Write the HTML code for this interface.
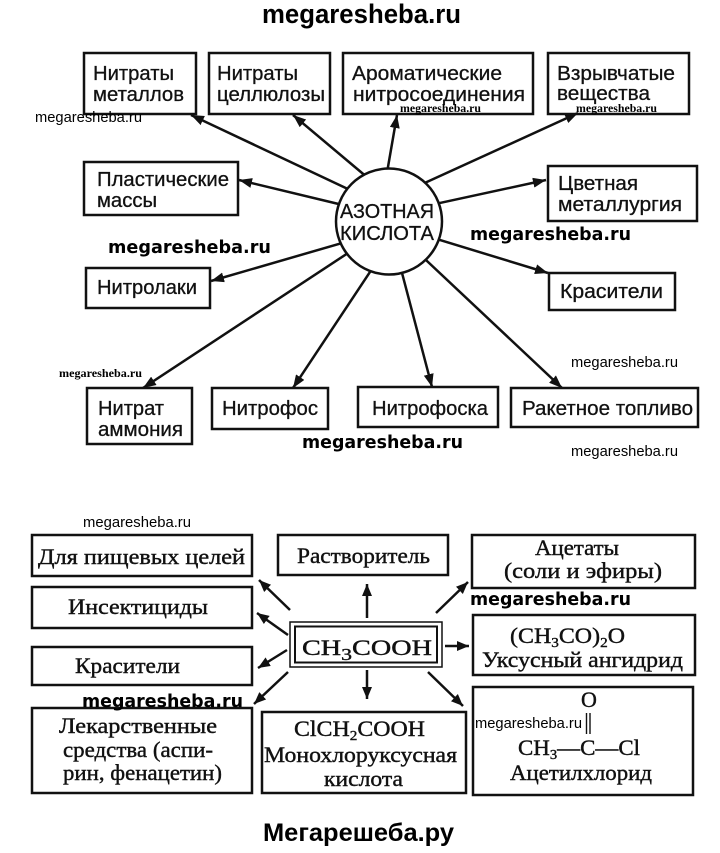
<!DOCTYPE html>
<html>
<head>
<meta charset="utf-8">
<style>
html,body{margin:0;padding:0;background:#fff;}
body{width:720px;height:853px;overflow:hidden;}
svg{display:block;}
.s{font-family:"Liberation Sans",Arial,sans-serif;font-size:20px;fill:#111;stroke:#111;stroke-width:0.3;}
.t{font-family:"Liberation Serif","Times New Roman",serif;font-size:22px;fill:#111;stroke:#111;stroke-width:0.4;}
.wb{font-family:"DejaVu Sans","Liberation Sans",sans-serif;font-weight:bold;font-size:17.5px;fill:#000;}
.wr{font-family:"Liberation Sans",Arial,sans-serif;font-size:15px;fill:#000;}
.ws{font-family:"Liberation Serif",serif;font-weight:bold;font-size:12px;fill:#000;}
.box{fill:none;stroke:#111;stroke-width:2.5;}
.ln{stroke:#111;stroke-width:2.5;fill:none;}
</style>
</head>
<body>
<svg width="720" height="853" viewBox="0 0 720 853" xmlns="http://www.w3.org/2000/svg">
<defs>
<marker id="a" markerUnits="userSpaceOnUse" markerWidth="13" markerHeight="10" refX="13" refY="5" orient="auto"><path d="M0,0 L13,5 L0,10 z" fill="#111"/></marker>
<marker id="b" markerUnits="userSpaceOnUse" markerWidth="12" markerHeight="10" refX="12" refY="5" orient="auto"><path d="M0,0 L12,5 L0,10 z" fill="#111"/></marker>
</defs>

<!-- Title -->
<text x="262" y="23" font-family="Liberation Sans, Arial, sans-serif" font-weight="bold" font-size="27" fill="#000" textLength="199" lengthAdjust="spacingAndGlyphs">megaresheba.ru</text>

<!-- TOP SECTION: arrows -->
<g class="ln">
<line x1="350" y1="190" x2="191" y2="115" marker-end="url(#a)"/>
<line x1="368" y1="178" x2="293" y2="115" marker-end="url(#a)"/>
<line x1="386.6" y1="175" x2="397" y2="115" marker-end="url(#a)"/>
<line x1="419.7" y1="185.3" x2="578" y2="113" marker-end="url(#a)"/>
<line x1="432" y1="204.7" x2="546" y2="180" marker-end="url(#a)"/>
<line x1="342.8" y1="205" x2="239" y2="180" marker-end="url(#a)"/>
<line x1="349.7" y1="240.8" x2="211" y2="281" marker-end="url(#a)"/>
<line x1="432.4" y1="237.7" x2="548" y2="273" marker-end="url(#a)"/>
<line x1="351.7" y1="250.6" x2="143" y2="388" marker-end="url(#a)"/>
<line x1="374.4" y1="265.3" x2="293" y2="388" marker-end="url(#a)"/>
<line x1="400" y1="265.3" x2="432" y2="387" marker-end="url(#a)"/>
<line x1="422.2" y1="256.5" x2="562" y2="388" marker-end="url(#a)"/>
</g>

<!-- circle -->
<circle cx="389" cy="221.5" r="53" fill="#fff" stroke="#111" stroke-width="2.5"/>
<text class="s" x="340" y="218" font-size="19" textLength="94" lengthAdjust="spacingAndGlyphs">АЗОТНАЯ</text>
<text class="s" x="340" y="240" font-size="19" textLength="94" lengthAdjust="spacingAndGlyphs">КИСЛОТА</text>

<!-- top boxes -->
<rect class="box" x="84" y="53" width="112" height="61"/>
<text class="s" x="93" y="80" textLength="81" lengthAdjust="spacingAndGlyphs">Нитраты</text>
<text class="s" x="93" y="101" textLength="91" lengthAdjust="spacingAndGlyphs">металлов</text>

<rect class="box" x="209" y="53" width="121" height="61"/>
<text class="s" x="217" y="80" textLength="81" lengthAdjust="spacingAndGlyphs">Нитраты</text>
<text class="s" x="217" y="101" textLength="108" lengthAdjust="spacingAndGlyphs">целлюлозы</text>

<rect class="box" x="343" y="53" width="190" height="61"/>
<text class="s" x="352" y="80" textLength="150" lengthAdjust="spacingAndGlyphs">Ароматические</text>
<text class="s" x="353" y="101" textLength="172" lengthAdjust="spacingAndGlyphs">нитросоединения</text>

<rect class="box" x="548" y="53" width="141" height="61"/>
<text class="s" x="557" y="80" textLength="118" lengthAdjust="spacingAndGlyphs">Взрывчатые</text>
<text class="s" x="557" y="100" textLength="93" lengthAdjust="spacingAndGlyphs">вещества</text>

<rect class="box" x="84" y="162" width="154" height="53"/>
<text class="s" x="97" y="186" textLength="132" lengthAdjust="spacingAndGlyphs">Пластические</text>
<text class="s" x="97" y="207" textLength="60" lengthAdjust="spacingAndGlyphs">массы</text>

<rect class="box" x="548" y="166" width="149" height="55"/>
<text class="s" x="558" y="190" textLength="80" lengthAdjust="spacingAndGlyphs">Цветная</text>
<text class="s" x="558" y="211" textLength="124" lengthAdjust="spacingAndGlyphs">металлургия</text>

<rect class="box" x="86" y="268" width="124" height="40"/>
<text class="s" x="97" y="294" textLength="100" lengthAdjust="spacingAndGlyphs">Нитролаки</text>

<rect class="box" x="549" y="273" width="126" height="37"/>
<text class="s" x="560" y="298" textLength="103" lengthAdjust="spacingAndGlyphs">Красители</text>

<rect class="box" x="87" y="388" width="105" height="56"/>
<text class="s" x="98" y="415" textLength="66" lengthAdjust="spacingAndGlyphs">Нитрат</text>
<text class="s" x="98" y="436" textLength="85" lengthAdjust="spacingAndGlyphs">аммония</text>

<rect class="box" x="212" y="388" width="116" height="41"/>
<text class="s" x="222" y="415" textLength="96" lengthAdjust="spacingAndGlyphs">Нитрофос</text>

<rect class="box" x="358" y="387" width="140" height="40"/>
<text class="s" x="372" y="415" textLength="116" lengthAdjust="spacingAndGlyphs">Нитрофоска</text>

<rect class="box" x="511" y="388" width="187" height="39"/>
<text class="s" x="522" y="415" textLength="171" lengthAdjust="spacingAndGlyphs">Ракетное топливо</text>

<!-- top watermarks -->
<text class="wr" x="35" y="122" textLength="107" lengthAdjust="spacingAndGlyphs">megaresheba.ru</text>
<text class="ws" x="400" y="112" textLength="81" lengthAdjust="spacingAndGlyphs">megaresheba.ru</text>
<text class="ws" x="576" y="112" textLength="81" lengthAdjust="spacingAndGlyphs">megaresheba.ru</text>
<text class="wb" x="470" y="240" textLength="161" lengthAdjust="spacingAndGlyphs">megaresheba.ru</text>
<text class="wb" x="108" y="253" textLength="163" lengthAdjust="spacingAndGlyphs">megaresheba.ru</text>
<text class="ws" x="59" y="377" font-family="Liberation Sans, sans-serif" textLength="83" lengthAdjust="spacingAndGlyphs">megaresheba.ru</text>
<text class="wr" x="571" y="367" textLength="107" lengthAdjust="spacingAndGlyphs">megaresheba.ru</text>
<text class="wb" x="302" y="448" textLength="161" lengthAdjust="spacingAndGlyphs">megaresheba.ru</text>
<text class="wr" x="571" y="456" textLength="107" lengthAdjust="spacingAndGlyphs">megaresheba.ru</text>

<!-- BOTTOM SECTION -->
<g class="ln" stroke-width="2.6">
<line x1="290" y1="610" x2="259" y2="580" marker-end="url(#b)"/>
<line x1="288" y1="635" x2="257" y2="613" marker-end="url(#b)"/>
<line x1="287" y1="650" x2="258" y2="668" marker-end="url(#b)"/>
<line x1="288" y1="672" x2="254" y2="704" marker-end="url(#b)"/>
<line x1="367" y1="618" x2="367" y2="584" marker-end="url(#b)"/>
<line x1="367" y1="670" x2="367" y2="699" marker-end="url(#b)"/>
<line x1="436" y1="613" x2="468" y2="582" marker-end="url(#b)"/>
<line x1="445" y1="646" x2="469" y2="646" marker-end="url(#b)"/>
<line x1="428" y1="672" x2="463" y2="706" marker-end="url(#b)"/>
</g>

<rect class="box" x="32" y="535" width="220" height="41" stroke-width="2.6"/>
<text class="t" x="38" y="564" textLength="207" lengthAdjust="spacingAndGlyphs">Для пищевых целей</text>

<rect class="box" x="32" y="587" width="220" height="41" stroke-width="2.6"/>
<text class="t" x="68" y="614" textLength="140" lengthAdjust="spacingAndGlyphs">Инсектициды</text>

<rect class="box" x="32" y="647" width="220" height="38" stroke-width="2.6"/>
<text class="t" x="75" y="673" textLength="105" lengthAdjust="spacingAndGlyphs">Красители</text>

<rect class="box" x="278" y="535" width="170" height="40" stroke-width="2.6"/>
<text class="t" x="297" y="563" textLength="133" lengthAdjust="spacingAndGlyphs">Растворитель</text>

<rect x="290" y="622" width="152" height="45" fill="#fff" stroke="#111" stroke-width="1.5"/>
<rect x="295" y="626.5" width="142" height="36" fill="none" stroke="#111" stroke-width="2"/>
<text class="t" x="302" y="655" font-size="27" textLength="130" lengthAdjust="spacingAndGlyphs">CH<tspan font-size="17" dy="5">3</tspan><tspan dy="-5">COOH</tspan></text>

<rect class="box" x="472" y="535" width="223" height="53" stroke-width="2.6"/>
<text class="t" x="535" y="555" textLength="84" lengthAdjust="spacingAndGlyphs">Ацетаты</text>
<text class="t" x="504" y="578" textLength="158" lengthAdjust="spacingAndGlyphs">(соли и эфиры)</text>

<rect class="box" x="473" y="615" width="222" height="60" stroke-width="2.6"/>
<text class="t" x="510" y="643" textLength="115" lengthAdjust="spacingAndGlyphs">(CH<tspan font-size="14" dy="4">3</tspan><tspan dy="-4">CO)</tspan><tspan font-size="14" dy="4">2</tspan><tspan dy="-4">O</tspan></text>
<text class="t" x="482" y="667" textLength="201" lengthAdjust="spacingAndGlyphs">Уксусный ангидрид</text>

<rect class="box" x="473" y="687" width="220" height="108" stroke-width="2.6"/>
<text class="t" x="581" y="707">O</text>
<line x1="586.5" y1="713" x2="586.5" y2="734" stroke="#111" stroke-width="1.4"/>
<line x1="590" y1="713" x2="590" y2="734" stroke="#111" stroke-width="1.4"/>
<text class="t" x="518" y="755" textLength="122" lengthAdjust="spacingAndGlyphs">CH<tspan font-size="14" dy="4">3</tspan><tspan dy="-4">—C—Cl</tspan></text>
<text class="t" x="510" y="780" textLength="142" lengthAdjust="spacingAndGlyphs">Ацетилхлорид</text>

<rect class="box" x="32" y="708" width="220" height="85" stroke-width="2.6"/>
<text class="t" x="59" y="733" textLength="158" lengthAdjust="spacingAndGlyphs">Лекарственные</text>
<text class="t" x="63" y="757" textLength="150" lengthAdjust="spacingAndGlyphs">средства (аспи-</text>
<text class="t" x="63" y="780" textLength="159" lengthAdjust="spacingAndGlyphs">рин, фенацетин)</text>

<rect class="box" x="262" y="712" width="204" height="81" stroke-width="2.6"/>
<text class="t" x="294" y="736" textLength="131" lengthAdjust="spacingAndGlyphs">ClCH<tspan font-size="14" dy="4">2</tspan><tspan dy="-4">COOH</tspan></text>
<text class="t" x="264" y="762" textLength="193" lengthAdjust="spacingAndGlyphs">Монохлоруксусная</text>
<text class="t" x="324" y="786" textLength="79" lengthAdjust="spacingAndGlyphs">кислота</text>

<!-- bottom watermarks -->
<text class="wr" x="83" y="527" textLength="108" lengthAdjust="spacingAndGlyphs">megaresheba.ru</text>
<text class="wb" x="470" y="605" textLength="161" lengthAdjust="spacingAndGlyphs">megaresheba.ru</text>
<text class="wb" x="82" y="707" textLength="161" lengthAdjust="spacingAndGlyphs">megaresheba.ru</text>
<text class="wr" x="475" y="728" textLength="107" lengthAdjust="spacingAndGlyphs">megaresheba.ru</text>

<!-- footer -->
<text x="263" y="841" font-family="Liberation Sans, Arial, sans-serif" font-weight="bold" font-size="25" fill="#000" textLength="191" lengthAdjust="spacingAndGlyphs">Мегарешеба.ру</text>
</svg>
</body>
</html>
